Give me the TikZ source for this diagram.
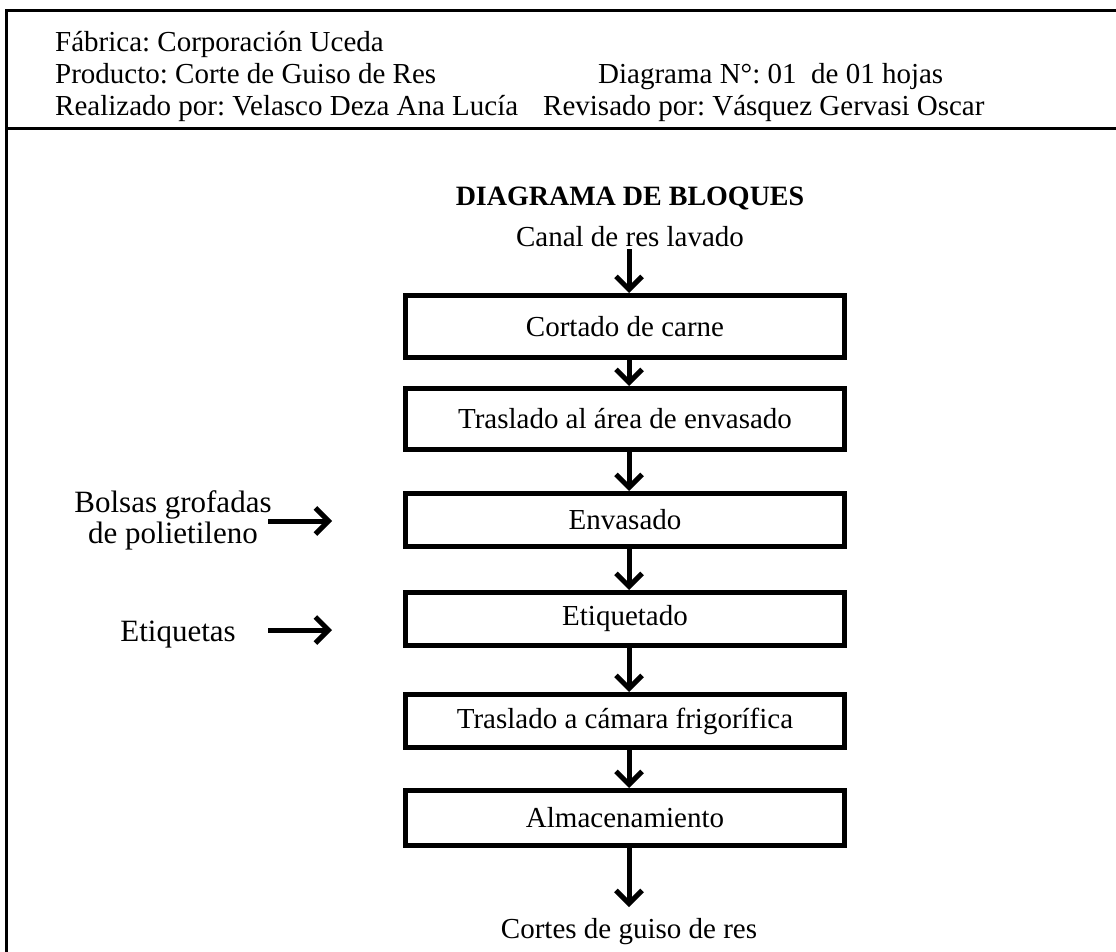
\documentclass[tikz,border=0pt]{standalone}
\usepackage{fontspec}
\setmainfont{Liberation Serif}
\usetikzlibrary{arrows.meta}
\frenchspacing
\begin{document}
\begin{tikzpicture}[x=1pt,y=-1pt,
  txt/.style={inner sep=0pt, font=\fontsize{29}{33}\selectfont},
  sidetxt/.style={inner sep=0pt, font=\fontsize{31}{31}\selectfont},
  stepbox/.style={draw, line width=5pt, minimum width=439pt, inner sep=0pt, font=\fontsize{29}{33}\selectfont},
  frameline/.style={line width=3pt},
  flow/.style={line width=5pt, -{Straight Barb[length=13pt,width=26pt]}}
]
\useasboundingbox (0,0) rectangle (1116,952);
% frame
\draw[frameline] (6,960) -- (6,11) -- (1120,11);
\draw[frameline] (6,129) -- (1120,129);
% header
\node[txt, anchor=base west] (h1) at (55,52) {Fábrica: Corporación Uceda};
\node[txt, anchor=base west] (h2) at (55,84) {Producto: Corte de Guiso de Res};
\node[txt, anchor=base west] (h2b) at (598,84) {Diagrama N°: 01\ \ de 01 hojas};
\node[txt, anchor=base west] (h3) at (55,116) {Realizado por: Velasco Deza Ana Lucía};
\node[txt, anchor=base west] (h3b) at (543,116) {Revisado por: Vásquez Gervasi Oscar};
% title
\node[txt, anchor=base, font=\fontsize{28}{33}\selectfont\bfseries] (title) at (630,206) {DIAGRAMA DE BLOQUES};
\node[txt, anchor=base] (canal) at (630,246) {Canal de res lavado};
% boxes
\node[stepbox, minimum height=62pt] (b1) at (625,326.5) {Cortado de carne};
\node[stepbox, minimum height=61pt] (b2) at (625,419) {Traslado al área de envasado};
\node[stepbox, minimum height=53pt] (b3) at (625,520) {Envasado};
\node[stepbox, minimum height=53pt] (b4) at (625,619) {Etiquetado};
\node[stepbox, minimum height=53pt] (b5) at (625,721) {Traslado a cámara frigorífica};
\node[stepbox, minimum height=55pt] (b6) at (625,818) {Almacenamiento};
\node[txt, anchor=base] (out) at (629,938) {Cortes de guiso de res};
% side inputs
\node[sidetxt, align=center, anchor=base] (bolsas) at (173,543) {Bolsas grofadas\\de polietileno};
\node[sidetxt, anchor=base] (etiq) at (178,641) {Etiquetas};
\coordinate (bs) at (268,521);
\coordinate (be) at (332,521);
\coordinate (es) at (268,630);
\coordinate (ee) at (332,630);
\coordinate (oe) at (629,907);
% connectors
\draw[flow] ([xshift=4pt]b1.north |- canal.south) ++(0,3) -- ([xshift=4pt]b1.north);
\draw[flow] ([xshift=4pt]b1.south) -- ([xshift=4pt]b2.north);
\draw[flow] ([xshift=4pt]b2.south) -- ([xshift=4pt]b3.north);
\draw[flow] ([xshift=4pt]b3.south) -- ([xshift=4pt]b4.north);
\draw[flow] ([xshift=4pt]b4.south) -- ([xshift=4pt]b5.north);
\draw[flow] ([xshift=4pt]b5.south) -- ([xshift=4pt]b6.north);
\draw[flow] ([xshift=4pt]b6.south) -- (oe);
\draw[flow] (bs) -- (be);
\draw[flow] (es) -- (ee);
\end{tikzpicture}
\end{document}
